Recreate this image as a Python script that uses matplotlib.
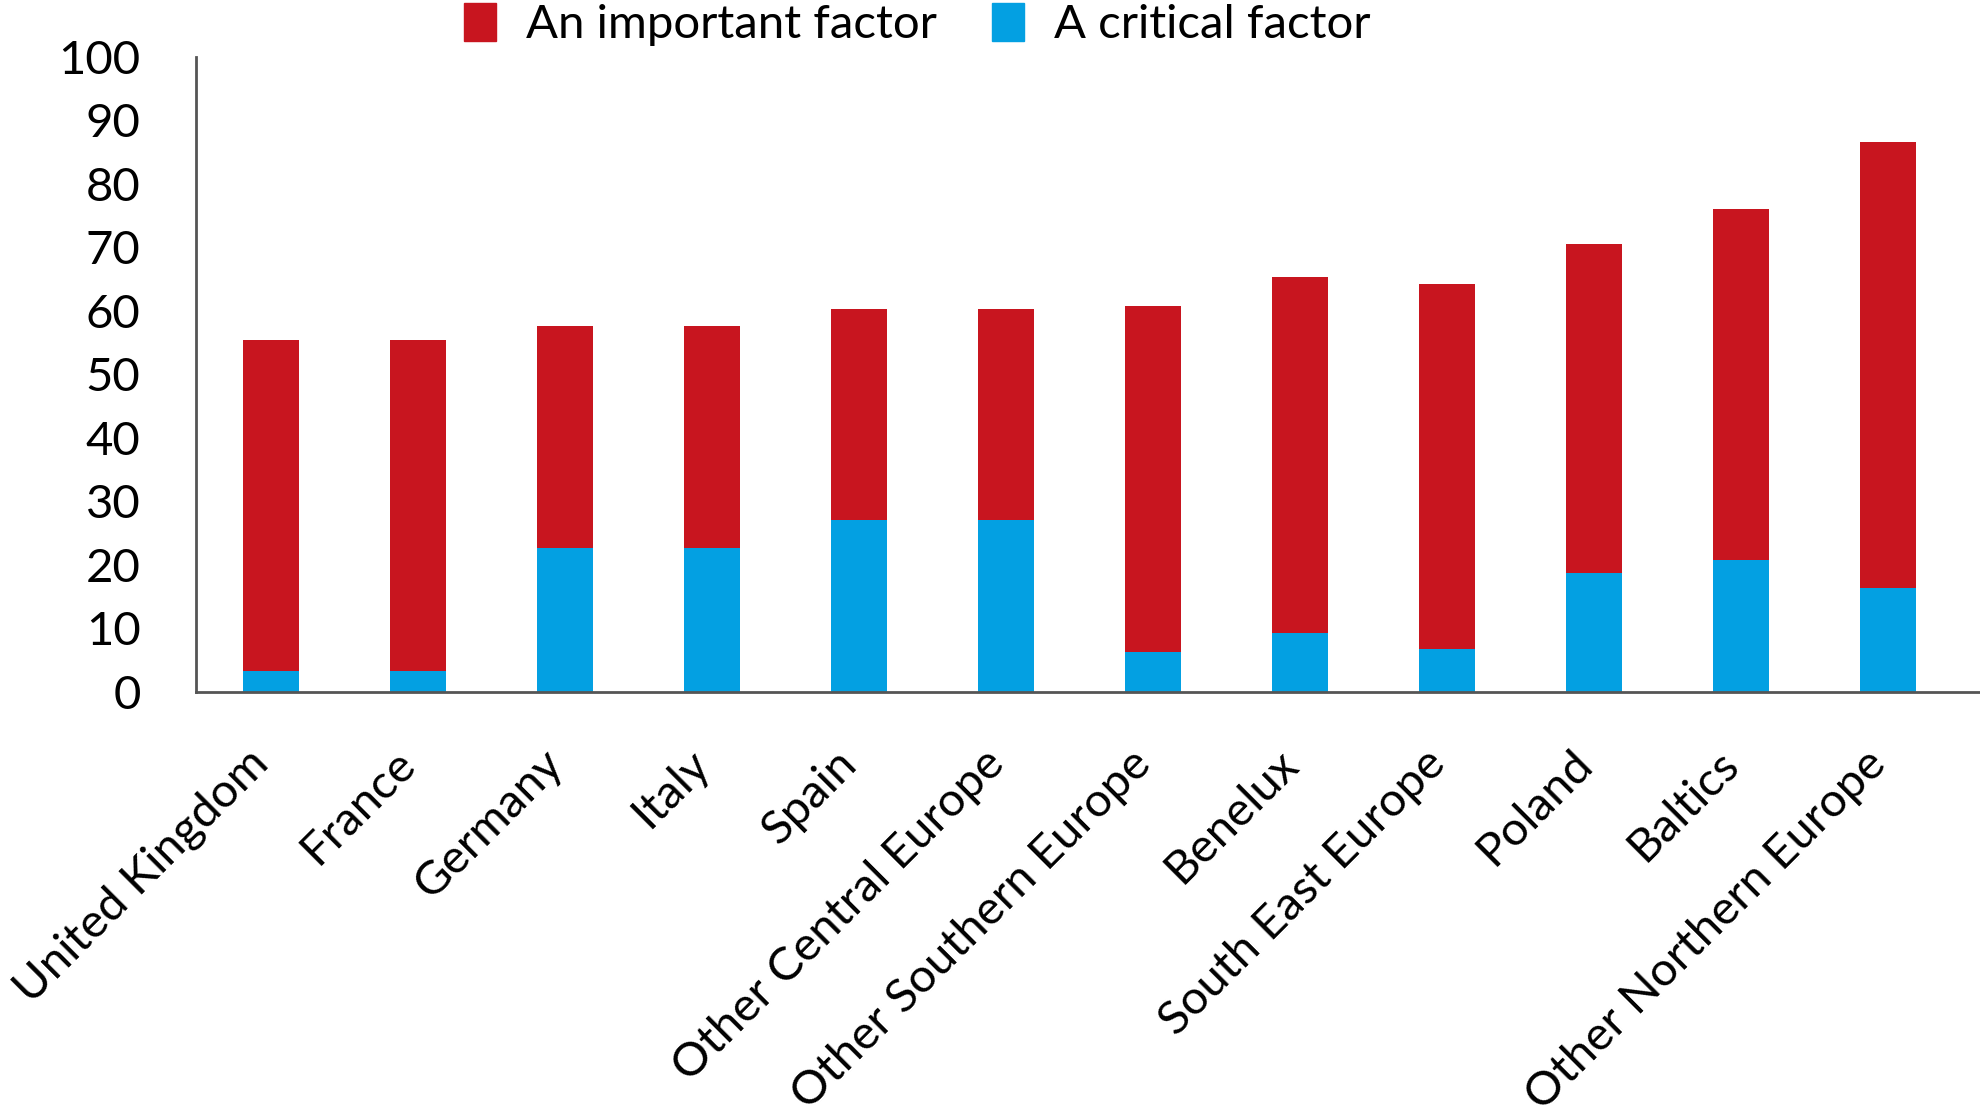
import matplotlib
matplotlib.use("Agg")
import matplotlib.pyplot as plt
import matplotlib.transforms as mtransforms
from matplotlib.patches import Patch
import numpy as np

regioes = [
    "United Kingdom", "France", "Germany", "Italy", "Spain",
    "Other Central Europe", "Other Southern Europe", "Benelux",
    "South East Europe", "Poland", "Baltics", "Other Northern Europe",
]
# porcentagens por segmento (empilhadas)
fator_critico = [3.3, 3.3, 22.6, 22.6, 27.1, 27.1, 6.3, 9.3, 6.8, 18.8, 20.8, 16.4]
fator_importante = [52.2, 52.2, 35.1, 35.1, 33.2, 33.2, 54.5, 56.1, 57.5, 51.8, 55.3, 70.2]

COR_IMPORTANTE = "#C8151F"
COR_CRITICO = "#03A0E2"
COR_EIXO = "#555555"

plt.rcParams["font.family"] = ["Liberation Sans Narrow", "Lato", "DejaVu Sans"]
TAM = 34

fig = plt.figure(figsize=(19.81, 11.17), dpi=100)
ax = fig.add_axes([0.099, 0.3805, 0.901, 0.5685])

x = np.arange(len(regioes))
larg = 0.38
ax.bar(x, fator_critico, width=larg, color=COR_CRITICO, zorder=2)
ax.bar(x, fator_importante, width=larg, bottom=fator_critico,
       color=COR_IMPORTANTE, zorder=2)

ax.set_xlim(-0.51, 11.63)
ax.set_ylim(0, 100)
ax.set_yticks(range(0, 101, 10))
ax.tick_params(axis="y", length=0, pad=40, labelsize=TAM)
ax.set_xticks(x)
ax.set_xticklabels(regioes, rotation=45, ha="right", va="top",
                   rotation_mode="anchor", fontsize=TAM)
ax.tick_params(axis="x", length=0, pad=36)

# desloca os rótulos inclinados um pouco para a esquerda
desloc = mtransforms.ScaledTranslation(-0.24, 0, fig.dpi_scale_trans)
for rot in ax.get_xticklabels():
    rot.set_transform(rot.get_transform() + desloc)

for lado in ("top", "right"):
    ax.spines[lado].set_visible(False)
for lado in ("left", "bottom"):
    ax.spines[lado].set_color(COR_EIXO)
    ax.spines[lado].set_linewidth(2)

handles = [Patch(color=COR_IMPORTANTE, label="An important factor"),
           Patch(color=COR_CRITICO, label="A critical factor")]
fig.legend(handles=handles, loc="center", bbox_to_anchor=(0.463, 0.978),
           ncol=2, frameon=False, fontsize=TAM, handlelength=0.68,
           handleheight=0.85, handletextpad=0.65, columnspacing=1.15)

fig.savefig("out.png", dpi=100)
